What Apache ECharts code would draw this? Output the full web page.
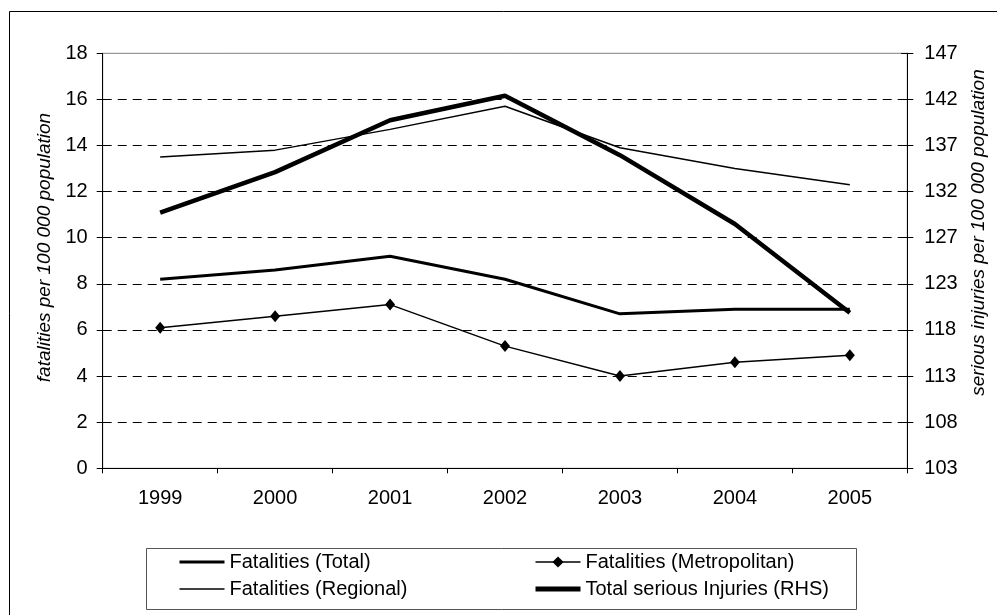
<!DOCTYPE html>
<html>
<head>
<meta charset="utf-8">
<script src="https://cdn.jsdelivr.net/npm/echarts@6/dist/echarts.min.js"></script>
<style>html,body{margin:0;padding:0;background:#fff;}#c{width:997px;height:615px;}</style>
</head>
<body>
<div id="c"></div>
<script>
var years = ['1999', '2000', '2001', '2002', '2003', '2004', '2005'];
var fatalitiesTotal = [8.2, 8.6, 9.2, 8.2, 6.7, 6.9, 6.9];
var fatalitiesMetro = [6.1, 6.6, 7.1, 5.3, 4.0, 4.6, 4.9];
var fatalitiesRegional = [13.5, 13.8, 14.7, 15.7, 13.9, 13.0, 12.3];
var seriousInjuries = [130.1, 134.4, 139.9, 142.5, 136.2, 128.9, 119.5];
var leftTicks = {min: 0, max: 18, interval: 2};
var rightTicks = {min: 103, max: 147, interval: 44 / 9};

var FONT = '"Liberation Sans", Arial, sans-serif';
var chart = echarts.init(document.getElementById('c'), null, {renderer: 'canvas'});
var legendText = {fontSize: 20, color: '#000', fontFamily: FONT, lineHeight: 20};
var noSym = {opacity: 0};
chart.setOption({
  backgroundColor: '#fff',
  animation: false,
  grid: {left: 102.7, right: 89.7, top: 53.3, bottom: 146.7, show: true, borderColor: '#808080', borderWidth: 1, backgroundColor: 'transparent'},
  xAxis: {
    type: 'category', data: years, boundaryGap: true,
    axisLine: {lineStyle: {color: '#000', width: 1}},
    axisTick: {show: true, length: 5, lineStyle: {color: '#000'}},
    axisLabel: {color: '#000', fontSize: 20, fontFamily: FONT, margin: 20},
    splitLine: {show: false}
  },
  yAxis: [{
    type: 'value', position: 'left', min: leftTicks.min, max: leftTicks.max, interval: leftTicks.interval,
    axisLine: {show: true, lineStyle: {color: '#000'}},
    axisTick: {show: true, length: 6, lineStyle: {color: '#000'}},
    axisLabel: {color: '#000', fontSize: 20, fontFamily: FONT, margin: 15},
    splitLine: {show: true, showMaxLine: false, showMinLine: false, lineStyle: {color: '#000', type: [9, 6], width: 1}}
  }, {
    type: 'value', position: 'right', min: rightTicks.min, max: rightTicks.max, interval: rightTicks.interval,
    axisLine: {show: true, lineStyle: {color: '#000'}},
    axisTick: {show: true, length: 6, lineStyle: {color: '#000'}},
    axisLabel: {color: '#000', fontSize: 20, fontFamily: FONT, margin: 17, formatter: function (v) { return String(Math.round(v)); }},
    splitLine: {show: false}
  }, {
    type: 'value', position: 'right', min: rightTicks.min, max: rightTicks.max, interval: rightTicks.interval,
    axisLine: {show: false},
    axisTick: {show: true, inside: true, length: 6, lineStyle: {color: '#000'}},
    axisLabel: {show: false},
    splitLine: {show: false}
  }],
  legend: [{
    orient: 'vertical', left: 173, top: 547, itemWidth: 45, itemHeight: 14, itemGap: 7,
    textStyle: legendText, selectedMode: false,
    data: [
      {name: 'Fatalities (Total)', itemStyle: noSym, lineStyle: {width: 3, color: '#000'}},
      {name: 'Fatalities (Regional)', itemStyle: noSym, lineStyle: {width: 1.5, color: '#000'}}
    ]
  }, {
    orient: 'vertical', left: 528, top: 547, itemWidth: 45, itemHeight: 14, itemGap: 7,
    textStyle: legendText, selectedMode: false,
    data: [
      {name: 'Fatalities (Metropolitan)', lineStyle: {width: 1.5, color: '#000'}},
      {name: 'Total serious Injuries (RHS)', itemStyle: noSym, lineStyle: {width: 5, color: '#000'}}
    ]
  }],
  series: [{
    name: 'Fatalities (Regional)', type: 'line', data: fatalitiesRegional, yAxisIndex: 0,
    symbol: 'none', lineStyle: {color: '#000', width: 1.5}, itemStyle: {color: '#000'}
  }, {
    name: 'Fatalities (Total)', type: 'line', data: fatalitiesTotal, yAxisIndex: 0,
    symbol: 'none', lineStyle: {color: '#000', width: 3}, itemStyle: {color: '#000'}
  }, {
    name: 'Fatalities (Metropolitan)', type: 'line', data: fatalitiesMetro, yAxisIndex: 0,
    symbol: 'diamond', symbolSize: [10, 12], showSymbol: true,
    lineStyle: {color: '#000', width: 1.5}, itemStyle: {color: '#000'}
  }, {
    name: 'Total serious Injuries (RHS)', type: 'line', data: seriousInjuries, yAxisIndex: 1,
    symbol: 'none', lineStyle: {color: '#000', width: 4.5}, itemStyle: {color: '#000'}
  }],
  graphic: [
    {type: 'rect', silent: true, z: -1, shape: {x: 9.5, y: 11.5, width: 1100, height: 700}, style: {fill: 'none', stroke: '#000', lineWidth: 1}},
    {type: 'rect', silent: true, z: -1, shape: {x: 146.5, y: 548.5, width: 710, height: 61}, style: {fill: 'none', stroke: '#555', lineWidth: 1}},
    {type: 'text', silent: true, x: 45, y: 247.5, rotation: Math.PI / 2,
     style: {text: 'fatalities per 100 000 population', font: 'italic 19px ' + FONT, fill: '#000', align: 'center', verticalAlign: 'middle'}},
    {type: 'text', silent: true, x: 979, y: 232.5, rotation: Math.PI / 2,
     style: {text: 'serious injuries per 100 000 population', font: 'italic 19px ' + FONT, fill: '#000', align: 'center', verticalAlign: 'middle'}}
  ]
});
</script>
</body>
</html>
